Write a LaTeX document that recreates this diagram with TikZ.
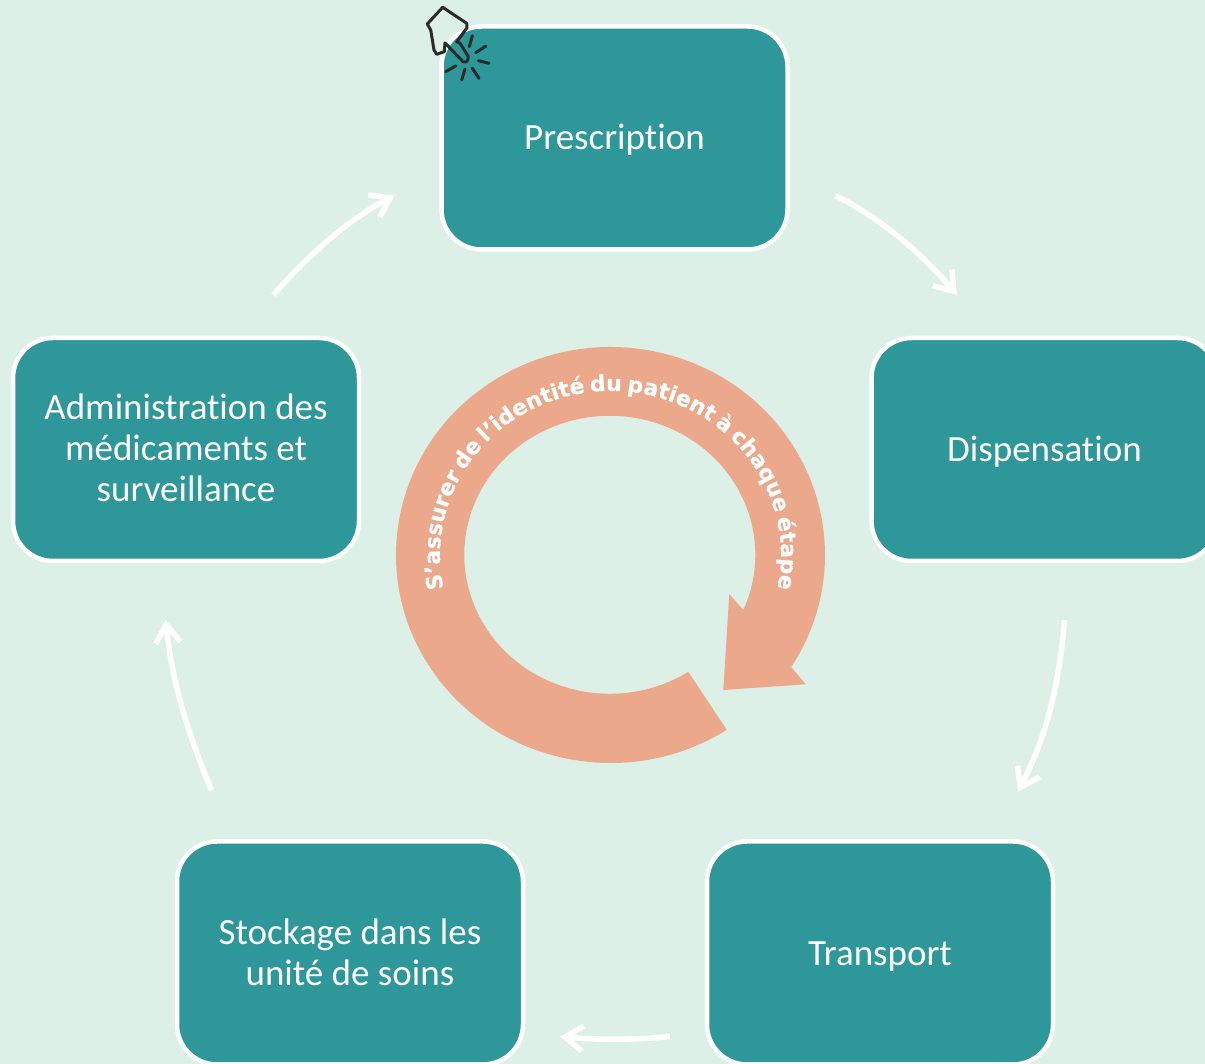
\documentclass[tikz,border=0pt]{standalone}
\usepackage{fontspec}
\setmainfont[Ligatures=NoCommon]{Carlito}
\newfontfamily\ringfont[UprightFont=* Bold,FakeBold=0.3,WordSpace=0.65]{DejaVu Sans}
\usetikzlibrary{arrows.meta,decorations.text}
\definecolor{bgmint}{HTML}{DCF0E7}
\definecolor{teal}{HTML}{2E9799}
\definecolor{salmon}{HTML}{ECA88A}
\definecolor{inkdark}{HTML}{2B2B2B}
\tikzset{
  stepbox/.style={draw=white,line width=4.5pt,fill=teal,rounded corners=40pt,
    minimum width=346pt,minimum height=223pt,inner sep=0pt,text=white,align=center,
    font=\fontsize{37}{41}\selectfont},
  oneline/.style={text height=32pt,text depth=8pt},
  flow/.style={draw=white,line width=5.5pt,
    -{Straight Barb[length=18pt,width=25pt,line width=5.5pt,sharp]}},
  handline/.style={draw=inkdark,line width=3pt,line join=round,line cap=round},
}
\begin{document}
\begin{tikzpicture}[x=1pt,y=1pt]
\useasboundingbox (0,0) rectangle (1205,1064);
\fill[bgmint] (0,0) rectangle (1205,1064);
% boxes
\node[stepbox,oneline] (presc) at (614.5,926) {Prescription};
\node[stepbox,oneline] (disp) at (1044.5,614.5) {Dispensation};
\node[stepbox,oneline,text height=34pt] (trans) at (880,111) {Transport};
\node[stepbox] (stock) at (350,111) {\raisebox{1pt}{Stockage dans les}\\\raisebox{1pt}{unité de soins}};
\node[stepbox] (admin) at (186,614.5) {\raisebox{3pt}{Administration des}\\\raisebox{3pt}{médicaments et}\\\raisebox{3pt}{surveillance}};
% connectors
\coordinate (a1s) at (835.7,868.3); \coordinate (a1t) at (957,769);
\coordinate (a2s) at (1064.5,444); \coordinate (a2t) at (1018.3,272.3);
\coordinate (a3s) at (670,27.5); \coordinate (a3t) at (560,27.3);
\coordinate (a4s) at (211.7,273.3); \coordinate (a4t) at (165.7,444);
\coordinate (a5s) at (273.3,769); \coordinate (a5t) at (394.3,868.3);
\draw[flow] (a1s) .. controls (875,849) and (918,815) .. (a1t);
\draw[flow] (a2s) .. controls (1058,365) and (1042,320) .. (a2t);
\draw[flow] (a3s) .. controls (635,24) and (600,24) .. (a3t);
\draw[flow] (a4s) .. controls (190,325) and (172,380) .. (a4t);
\draw[flow] (a5s) .. controls (305,805) and (345,843) .. (a5t);
% ring arrow
\fill[salmon] (610.5,509) ++(-57.2:214.5 and 208)
  arc[start angle=-57.2,end angle=-392.6,x radius=214.5,y radius=208]
  -- (805.7,379.7) -- (723.3,374) -- (729.3,470)
  -- (743.3,454)
  arc[start angle=-383.4,end angle=-57.35,x radius=145.5,y radius=139] -- cycle;
% ring text
\coordinate (rc) at (610.5,509);
\path[decorate,decoration={text along path,text align=center,
  text={|\ringfont\fontsize{22}{22}\selectfont\color{white}|S’assurer de l’identité du patient à chaque étape}}]
  (rc) ++(198:170.5 and 164) arc[start angle=198,end angle=-18,x radius=170.5,y radius=164];
% hand icon
\draw[handline] (442.7,1056.7) -- (466.7,1040.7) -- (467,1036) -- (456.7,1022.3) -- (460,1020.7)
  -- (468,1008) .. controls (469,1003) and (466,1001) .. (463,1002.3) -- (445,1021) -- (444.3,1012.3) -- (436.7,1009.7) -- (434,1014) -- (430.7,1034) -- (427.3,1040) -- cycle;
\draw[handline] (472.3,1028.3) -- (469.3,1017.3);
\draw[handline] (486,1018) -- (475.7,1011.3);
\draw[handline] (478.3,1003.3) -- (489,1000.7);
\draw[handline] (472.3,995.7) -- (479,985.7);
\draw[handline] (465,995) -- (461.7,984);
\draw[handline] (456,998.3) -- (445.7,992.3);
\end{tikzpicture}
\end{document}
